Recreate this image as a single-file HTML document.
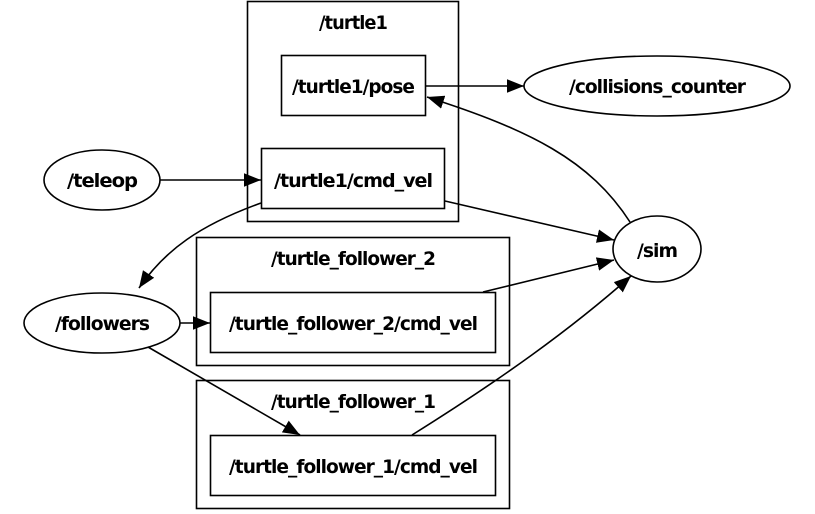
<!DOCTYPE html>
<html><head><meta charset="utf-8"><style>
html,body{margin:0;padding:0;background:#fff;width:815px;height:514px;overflow:hidden}
text{font-family:"DejaVu Sans","Liberation Sans",sans-serif;font-weight:bold;font-size:19px;text-anchor:middle;letter-spacing:-1px}
</style></head><body>
<svg width="815" height="514" viewBox="0 0 815 514" xmlns="http://www.w3.org/2000/svg">
<defs><marker id="a" viewBox="0 0 10 10" refX="10" refY="5" markerWidth="17" markerHeight="17" markerUnits="userSpaceOnUse" orient="auto"><path d="M0,1 L10,5 L0,9 z" fill="#000"/></marker></defs>
<g fill="none" stroke="#000" stroke-width="1.6">
<rect x="247.5" y="1.5" width="211" height="220"/>
<rect x="281.5" y="55.5" width="144" height="60"/>
<rect x="261.5" y="148.5" width="183" height="60"/>
<rect x="196.5" y="237.5" width="313" height="128"/>
<rect x="210.5" y="292.5" width="285" height="60"/>
<rect x="196.5" y="380.5" width="313" height="128"/>
<rect x="210.5" y="435.5" width="285" height="60"/>
<ellipse cx="657" cy="86" rx="133" ry="30"/>
<ellipse cx="102" cy="180" rx="58" ry="30"/>
<ellipse cx="657" cy="249" rx="44" ry="33"/>
<ellipse cx="102" cy="323" rx="78" ry="30"/>
<path d="M425,86 L524,86" marker-end="url(#a)"/>
<path d="M630,222 C590,160 530,130 427,97" marker-end="url(#a)"/>
<path d="M160,180 L261,180" marker-end="url(#a)"/>
<path d="M445,201 L614,240" marker-end="url(#a)"/>
<path d="M261,203 C200,225 165,250 139,288" marker-end="url(#a)"/>
<path d="M483,292 L614,260" marker-end="url(#a)"/>
<path d="M180,323 L210,323" marker-end="url(#a)"/>
<path d="M148,347 L300,435" marker-end="url(#a)"/>
<path d="M412,435 C500,380 570,330 631,276" marker-end="url(#a)"/>
</g>
<g fill="#000">
<text x="353" y="29" textLength="68" lengthAdjust="spacingAndGlyphs">/turtle1</text>
<text x="353" y="93" textLength="122" lengthAdjust="spacingAndGlyphs">/turtle1/pose</text>
<text x="353" y="187" textLength="158" lengthAdjust="spacingAndGlyphs">/turtle1/cmd_vel</text>
<text x="657" y="93" textLength="176" lengthAdjust="spacingAndGlyphs">/collisions_counter</text>
<text x="102" y="187" textLength="70" lengthAdjust="spacingAndGlyphs">/teleop</text>
<text x="657" y="257" textLength="40" lengthAdjust="spacingAndGlyphs">/sim</text>
<text x="353" y="265" textLength="164" lengthAdjust="spacingAndGlyphs">/turtle_follower_2</text>
<text x="353" y="330" textLength="248" lengthAdjust="spacingAndGlyphs">/turtle_follower_2/cmd_vel</text>
<text x="102" y="330" textLength="94" lengthAdjust="spacingAndGlyphs">/followers</text>
<text x="353" y="408" textLength="164" lengthAdjust="spacingAndGlyphs">/turtle_follower_1</text>
<text x="353" y="473" textLength="248" lengthAdjust="spacingAndGlyphs">/turtle_follower_1/cmd_vel</text>
</g>
</svg>
</body></html>
